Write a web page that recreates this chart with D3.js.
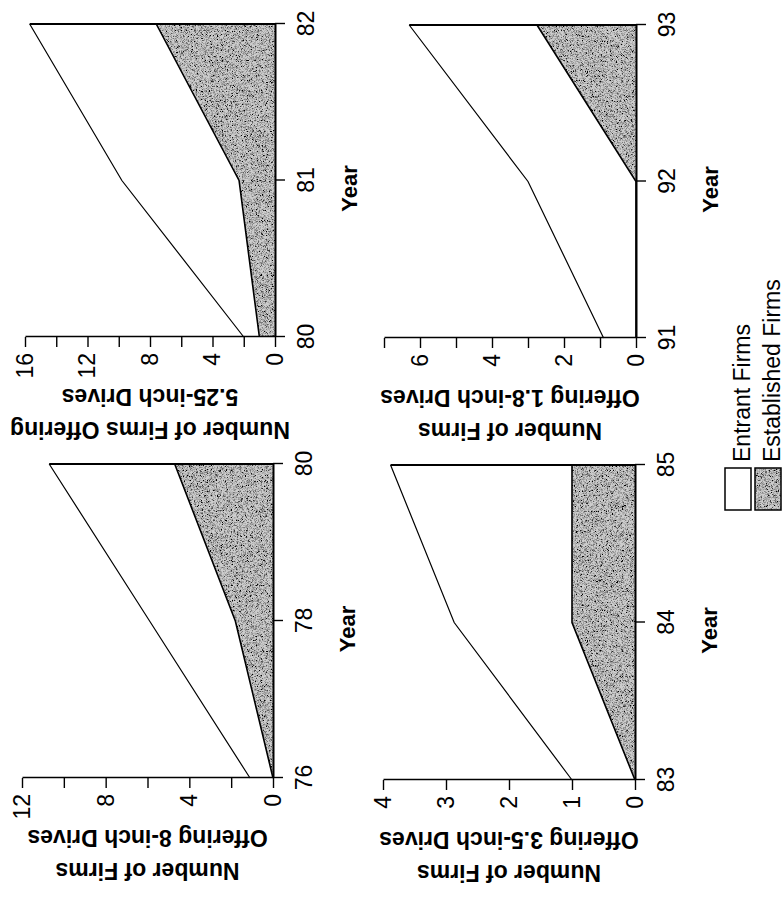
<!DOCTYPE html>
<html>
<head>
<meta charset="utf-8">
<script src="https://cdn.jsdelivr.net/npm/d3@7"></script>
<style>
  body { margin: 0; background: #fff; }
  svg { display: block; font-family: "Liberation Sans", Arial, Helvetica, sans-serif; }
</style>
</head>
<body>
<div id="chart"></div>
<script>
// Values (counts of firms per year)
const years8 = [76, 78, 80];
const established8 = [0, 1.8, 4.7];
const total8 = [1.1, 5.9, 10.7];

const years525 = [80, 81, 82];
const established525 = [1.0, 2.3, 7.6];
const total525 = [2.0, 9.8, 15.7];

const years35 = [83, 84, 85];
const established35 = [0, 1, 1];
const total35 = [1, 2.87, 3.88];

const years18 = [91, 92, 93];
const established18 = [0, 0, 2.75];
const total18 = [0.9, 3, 6.3];

// y ticks (all tick marks) and which ones get a label
const ticks8 = [0, 2, 4, 6, 8, 10, 12], labels8 = [0, 4, 8, 12];
const ticks525 = [0, 2, 4, 6, 8, 10, 12, 14, 16], labels525 = [0, 4, 8, 12, 16];
const ticks35 = [0, 1, 2, 3, 4], labels35 = [0, 1, 2, 3, 4];
const ticks18 = [0, 1, 2, 3, 4, 5, 6, 7], labels18 = [0, 2, 4, 6];

const legendLabels = ["Entrant Firms", "Established Firms"];

// The figure is drawn upright (898 wide, 784 tall) and then turned 90deg
// counter-clockwise, like the scanned page.
const W = 898, H = 784;
const svg = d3.select("#chart").append("svg")
  .attr("width", H)
  .attr("height", W);

// fine stipple texture for the shaded area
const defs = svg.append("defs");
const f = defs.append("filter").attr("id", "grain")
  .attr("x", 0).attr("y", 0).attr("width", 1).attr("height", 1);
f.append("feTurbulence").attr("type", "fractalNoise")
  .attr("baseFrequency", 1.8).attr("numOctaves", 1).attr("seed", 4).attr("result", "n");
f.append("feColorMatrix").attr("in", "n").attr("type", "matrix")
  .attr("values", "0 0 0 0 0  0 0 0 0 0  0 0 0 0 0  3.4 0 0 0 -1.45").attr("result", "dots");
f.append("feComposite").attr("in", "dots").attr("in2", "SourceGraphic")
  .attr("operator", "in").attr("result", "d2");
const m = f.append("feMerge");
m.append("feMergeNode").attr("in", "SourceGraphic");
m.append("feMergeNode").attr("in", "d2");

const g = svg.append("g").attr("transform", `translate(0,${W}) rotate(-90)`);

const panels = [
  {title: ["Number of Firms", "Offering 8-inch Drives"], years: years8, est: established8, total: total8,
   ticks: ticks8, labels: labels8, x0: 120, x1: 434, y0: 273, y1: 22},
  {title: ["Number of Firms Offering", "5.25-inch Drives"], years: years525, est: established525, total: total525,
   ticks: ticks525, labels: labels525, x0: 561, x1: 874, y0: 275, y1: 25},
  {title: ["Number of Firms", "Offering 3.5-inch Drives"], years: years35, est: established35, total: total35,
   ticks: ticks35, labels: labels35, x0: 118, x1: 433, y0: 635, y1: 383},
  {title: ["Number of Firms", "Offering 1.8-inch Drives"], years: years18, est: established18, total: total18,
   ticks: ticks18, labels: labels18, x0: 560, x1: 873, y0: 636, y1: 384}
];

panels.forEach(p => {
  const last = p.years.length - 1;
  const x = d3.scaleLinear().domain([p.years[0], p.years[last]]).range([p.x0, p.x1]);
  const y = d3.scaleLinear().domain([0, d3.max(p.ticks)]).range([p.y0, p.y1]);
  const rows = p.years.map((yr, i) => ({yr: yr, e: p.est[i], t: p.total[i]}));

  const pg = g.append("g");

  // established firms (shaded)
  pg.append("path")
    .datum(rows)
    .attr("fill", "#cdcdcd")
    .attr("filter", "url(#grain)")
    .attr("d", d3.area().x(d => x(d.yr)).y0(y(0)).y1(d => y(d.e)));

  pg.append("path")
    .datum(rows)
    .attr("fill", "none")
    .attr("stroke", "#000")
    .attr("stroke-width", 1.6)
    .attr("d", d3.line().x(d => x(d.yr)).y(d => y(d.e)));

  // total = established + entrant
  pg.append("path")
    .datum(rows)
    .attr("fill", "none")
    .attr("stroke", "#000")
    .attr("stroke-width", 1.2)
    .attr("d", d3.line().x(d => x(d.yr)).y(d => y(d.t)));

  // closing edge at the last year
  pg.append("line")
    .attr("x1", x(p.years[last])).attr("x2", x(p.years[last]))
    .attr("y1", y(0)).attr("y2", y(p.total[last]))
    .attr("stroke", "#000").attr("stroke-width", 2);

  // axes
  const xa = pg.append("g")
    .attr("transform", `translate(0,${p.y0})`)
    .call(d3.axisBottom(x).tickValues(p.years).tickFormat(d3.format("d"))
      .tickSize(10).tickSizeOuter(0).tickPadding(13));
  const ya = pg.append("g")
    .attr("transform", `translate(${p.x0},0)`)
    .call(d3.axisLeft(y).tickValues(p.ticks).tickFormat(d => p.labels.includes(d) ? d : "")
      .tickSize(10).tickSizeOuter(0).tickPadding(6));
  [xa, ya].forEach(a => {
    a.selectAll("path, line").attr("stroke", "#000").attr("stroke-width", 1.4);
    a.selectAll("text").attr("fill", "#000").style("font-size", "23px");
    a.attr("font-family", null);
  });
  xa.select(".domain").attr("stroke-width", 2);

  // axis titles
  pg.append("text")
    .attr("x", (p.x0 + p.x1) / 2 - 8)
    .attr("y", p.y0 + 82)
    .attr("text-anchor", "middle")
    .style("font-size", "22px")
    .style("font-weight", "bold")
    .text("Year");

  const ty = (p.y0 + p.y1) / 2;
  [[p.title[0], 85], [p.title[1], 52]].forEach(([t, off]) => {
    pg.append("text")
      .attr("transform", `translate(${p.x0 - off},${ty}) rotate(-90)`)
      .attr("text-anchor", "middle")
      .style("font-size", "23px")
      .style("font-weight", "bold")
      .text(t);
  });
});

// legend
const lg = g.append("g");
legendLabels.forEach((t, i) => {
  const top = 725 + i * 30;
  lg.append("rect")
    .attr("x", 388).attr("y", top)
    .attr("width", 42).attr("height", 26)
    .attr("fill", i === 0 ? "#fff" : "#cdcdcd")
    .attr("filter", i === 0 ? null : "url(#grain)");
  lg.append("rect")
    .attr("x", 388).attr("y", top)
    .attr("width", 42).attr("height", 26)
    .attr("fill", "none")
    .attr("stroke", "#000").attr("stroke-width", 1.5);
  lg.append("text")
    .attr("x", 436).attr("y", top + 25)
    .style("font-size", "23px")
    .text(t);
});
</script>
</body>
</html>
